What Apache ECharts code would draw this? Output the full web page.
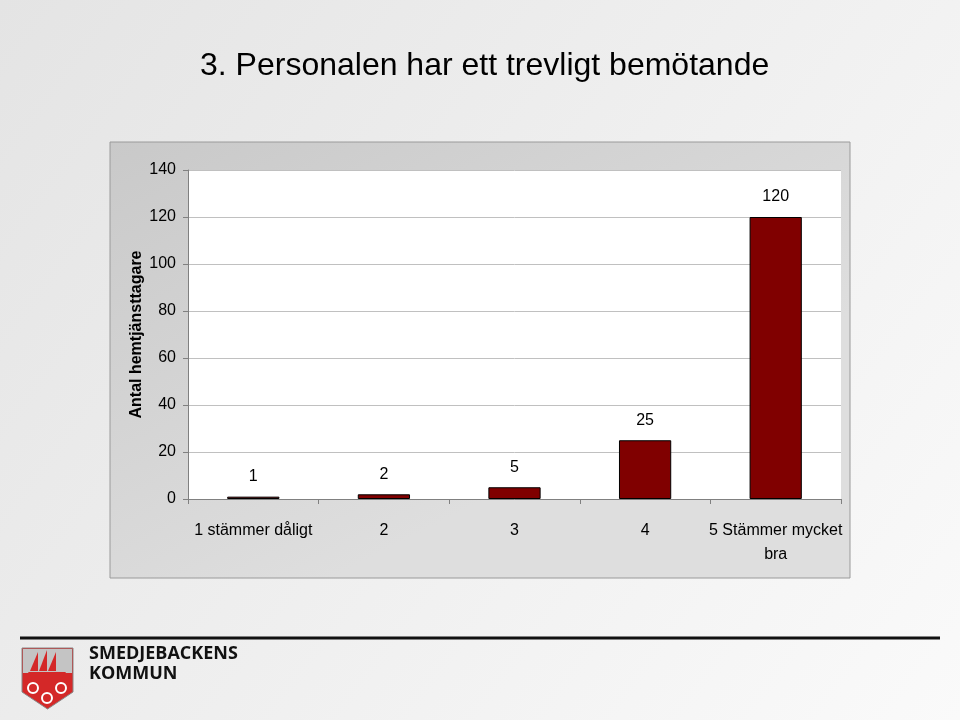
<!DOCTYPE html>
<html><head><meta charset="utf-8">
<script src="https://cdn.jsdelivr.net/npm/echarts@6/dist/echarts.min.js"></script>
<style>html,body{margin:0;padding:0;}#c{width:960px;height:720px;}</style>
</head><body><div id="c"></div>
<script>
const categories = ['1 stämmer dåligt', '2', '3', '4', '5 Stämmer mycket\nbra'];
const values = [1, 2, 5, 25, 120];
const yTicks = [0, 20, 40, 60, 80, 100, 120, 140];
const titleText = '3. Personalen har ett trevligt bemötande';
const yName = 'Antal hemtjänsttagare';

const chart = echarts.init(document.getElementById('c'), null, {renderer: 'canvas'});
const font = '"Liberation Sans Narrow", "Liberation Sans", Arial, sans-serif';
chart.setOption({
  backgroundColor: {type: 'linear', x: 0, y: 0, x2: 1, y2: 1, colorStops: [{offset: 0, color: '#e4e4e4'}, {offset: 1, color: '#fafafa'}]},
  animation: false,
  title: {text: titleText, left: 195, top: 45, textStyle: {fontFamily: '"Liberation Sans", Arial, sans-serif', fontSize: 32, fontWeight: 'normal', color: '#000'}},
  graphic: [
    {type: 'rect', z: -10, shape: {x: 110, y: 142, width: 740, height: 436}, style: {fill: {type: 'linear', x: 0, y: 0, x2: 0.3, y2: 1, colorStops: [{offset: 0, color: '#c9c9c9'}, {offset: 1, color: '#dedede'}]}, stroke: '#9a9a9a', lineWidth: 1}},
    {type: 'rect', z: -9, shape: {x: 188, y: 170, width: 653, height: 329}, style: {fill: '#ffffff'}},
    {type: 'line', shape: {x1: 20, y1: 638, x2: 940, y2: 638}, style: {stroke: '#111', lineWidth: 3}},
    {type: 'polygon', shape: {points: [[22,648],[73,648],[73,692],[47.5,709],[22,692]]}, style: {fill: '#d42828', stroke: '#888', lineWidth: 1}},
    {type: 'rect', shape: {x: 23, y: 649, width: 49, height: 24}, style: {fill: '#c4c4c4'}},
    {type: 'polygon', shape: {points: [[28,672],[66,672],[62,678],[32,678]]}, style: {fill: '#d42828'}},
    {type: 'polygon', shape: {points: [[38,652],[38,671],[30,671]]}, style: {fill: '#d42828'}},
    {type: 'polygon', shape: {points: [[47,650],[47,671],[39,671]]}, style: {fill: '#d42828'}},
    {type: 'polygon', shape: {points: [[56,652],[56,671],[48,671]]}, style: {fill: '#d42828'}},
    {type: 'circle', shape: {cx: 33, cy: 688, r: 5}, style: {fill: 'none', stroke: '#fff', lineWidth: 2}},
    {type: 'circle', shape: {cx: 61, cy: 688, r: 5}, style: {fill: 'none', stroke: '#fff', lineWidth: 2}},
    {type: 'circle', shape: {cx: 47, cy: 698, r: 5}, style: {fill: 'none', stroke: '#fff', lineWidth: 2}},
    {type: 'text', style: {x: 89, y: 644, text: 'SMEDJEBACKENS\nKOMMUN', font: 'bold 18px "Open Sans", "DejaVu Sans", sans-serif', fill: '#111', lineHeight: 20}}
  ],
  grid: {left: 188, top: 170, width: 653, height: 329, show: false},
  xAxis: {
    type: 'category', data: categories,
    axisLine: {lineStyle: {color: '#808080', width: 1}},
    axisTick: {show: true, length: 5, lineStyle: {color: '#808080'}},
    axisLabel: {fontFamily: font, fontSize: 16, color: '#000', margin: 20, lineHeight: 24, interval: 0}
  },
  yAxis: {
    type: 'value', min: 0, max: 140, interval: 20,
    name: yName, nameLocation: 'middle', nameGap: 43, nameMoveOverlap: false,
    nameTextStyle: {fontFamily: '"Liberation Sans", Arial, sans-serif', fontSize: 16, fontWeight: 'bold', color: '#000'},
    axisLine: {show: true, lineStyle: {color: '#808080'}},
    axisTick: {show: true, length: 5, lineStyle: {color: '#808080'}},
    axisLabel: {fontFamily: font, fontSize: 16, color: '#000', margin: 12},
    splitLine: {show: true, lineStyle: {color: '#c0c0c0', width: 1}}
  },
  series: [{
    type: 'bar', data: values, barWidth: '40%',
    itemStyle: {color: '#800000', borderColor: '#000', borderWidth: 1},
    label: {show: true, position: 'top', distance: 12, fontFamily: font, fontSize: 16, color: '#000'}
  }]
});
</script></body></html>
